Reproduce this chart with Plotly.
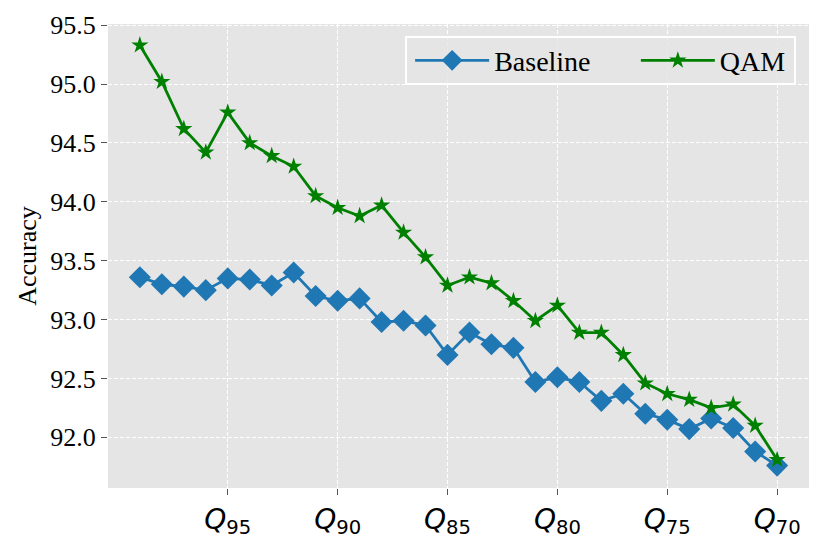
import plotly.graph_objects as go

quality = list(range(99, 69, -1))
baseline = [93.36, 93.30, 93.28, 93.25, 93.35, 93.34, 93.29, 93.40, 93.20, 93.16,
            93.18, 92.98, 92.99, 92.95, 92.70, 92.89, 92.79, 92.76, 92.47, 92.51,
            92.47, 92.31, 92.37, 92.20, 92.15, 92.07, 92.16, 92.08, 91.88, 91.76]
qam = [95.33, 95.02, 94.62, 94.42, 94.76, 94.50, 94.39, 94.30, 94.05, 93.95,
       93.88, 93.97, 93.74, 93.53, 93.29, 93.36, 93.31, 93.16, 92.99, 93.12,
       92.89, 92.89, 92.70, 92.46, 92.37, 92.32, 92.25, 92.28, 92.10, 91.81]
xtick_vals = [95, 90, 85, 80, 75, 70]
xtick_text = [f"<i>Q</i><sub>{v}</sub>" for v in xtick_vals]
ytick_vals = [92.0, 92.5, 93.0, 93.5, 94.0, 94.5, 95.0, 95.5]

fig = go.Figure()
fig.add_trace(go.Scatter(x=quality, y=baseline, name="Baseline", mode="lines+markers",
                         line=dict(color="#1f77b4", width=2.8), legend="legend",
                         marker=dict(symbol="diamond", size=17, color="#1f77b4")))
fig.add_trace(go.Scatter(x=quality, y=qam, name="QAM", mode="lines+markers",
                         line=dict(color="#008000", width=2.8), legend="legend2",
                         marker=dict(symbol="star", size=13, color="#008000")))

leg_common = dict(orientation="h", xanchor="left", yanchor="middle", y=0.921,
                  bgcolor="rgba(0,0,0,0)", borderwidth=0, font=dict(size=28),
                  itemwidth=74)
fig.update_layout(
    width=830, height=544,
    margin=dict(l=100, r=29, t=16, b=64),
    paper_bgcolor="white", plot_bgcolor="#E5E5E5",
    font=dict(family="Liberation Serif", size=26, color="black"),
    legend=dict(x=0.431, **leg_common),
    legend2=dict(x=0.753, **leg_common),
    showlegend=True,
    shapes=[dict(type="rect", xref="paper", yref="paper", layer="above",
                 x0=0.4251, x1=0.980, y0=0.8707, y1=0.972,
                 fillcolor="rgba(229,229,229,0.8)", line=dict(color="white", width=2))],
)
fig.update_xaxes(range=[100.45, 68.55], tickmode="array", tickvals=xtick_vals, ticktext=xtick_text,
                 tickfont=dict(family="DejaVu Sans", size=28),
                 showgrid=True, gridcolor="white", griddash="4px,2px", gridwidth=1,
                 ticks="outside", ticklen=6, tickcolor="#555555", tickwidth=1,
                 zeroline=False, showline=False, automargin=False)
fig.update_yaxes(range=[91.57, 95.51], tickmode="array", tickvals=ytick_vals,
                 ticktext=[f"{v:.1f}" for v in ytick_vals],
                 showgrid=True, gridcolor="white", griddash="4px,2px", gridwidth=1,
                 ticks="outside", ticklen=6, tickcolor="#555555", tickwidth=1,
                 zeroline=False, showline=False, automargin=False,
                 title=dict(text="Accuracy", standoff=6, font=dict(size=26)))

fig.write_html("out.html")
